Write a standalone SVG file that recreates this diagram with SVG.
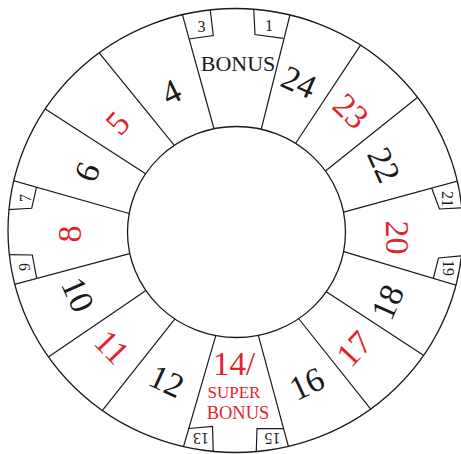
<svg xmlns="http://www.w3.org/2000/svg" width="461" height="454" viewBox="0 0 461 454">
<defs>
<style>
.rim{fill:none;stroke:#1a1a1a;stroke-width:1.3}
.hub{fill:#fff;stroke:#1a1a1a;stroke-width:1.3}
.div{fill:none;stroke:#1a1a1a;stroke-width:1.2}
.num{font-family:"Liberation Serif","Times New Roman",serif;font-size:34px;text-anchor:middle;dominant-baseline:central;fill:#1a1a1a}
.red{fill:#e3242b}
.tab{font-size:16px}
.word{font-family:"Liberation Serif","Times New Roman",serif;text-anchor:middle;fill:#1a1a1a}
.wred{fill:#e3242b}
</style>
<clipPath id="wheelClip"><ellipse cx="235.5" cy="230.5" rx="227.5" ry="222"/></clipPath>
</defs>
<rect width="461" height="454" fill="#fff"/>
<g id="connectors" clip-path="url(#wheelClip)">
<line class="div" x1="216" y1="136" x2="180" y2="6"/>
<line class="div" x1="179.6" y1="151.8" x2="93.7" y2="46.2"/>
<line class="div" x1="153.4" y1="178.7" x2="38.3" y2="104.6"/>
<line class="div" x1="138" y1="216" x2="3.7" y2="177.8"/>
<line class="div" x1="138" y1="251.4" x2="5.3" y2="286.8"/>
<line class="div" x1="153.3" y1="285.4" x2="41" y2="362"/>
<line class="div" x1="179.5" y1="313.2" x2="95.5" y2="419.1"/>
<line class="div" x1="218.3" y1="326.9" x2="180.2" y2="458.1"/>
<line class="div" x1="255.7" y1="325.6" x2="291.6" y2="458.2"/>
<line class="div" x1="293.8" y1="312.5" x2="377.9" y2="418.1"/>
<line class="div" x1="318.3" y1="286.5" x2="433.4" y2="361.8"/>
<line class="div" x1="335.4" y1="249.1" x2="468.6" y2="288.9"/>
<line class="div" x1="335.3" y1="214.3" x2="467.7" y2="178.4"/>
<line class="div" x1="318.9" y1="176.3" x2="426.1" y2="90.5"/>
<line class="div" x1="291.2" y1="150" x2="365.5" y2="37.7"/>
<line class="div" x1="259.3" y1="137" x2="292.4" y2="5.3"/>
<g id="tab-boxes">
<polyline class="div" points="189,39 213.3,35.5 209.5,4"/>
<polyline class="div" points="283.3,38.3 255,34.5 253.5,4"/>
<polyline class="div" points="431.7,188.3 439.5,209 466,207.5"/>
<polyline class="div" points="433.3,278.3 438.5,258 466,255.5"/>
<polyline class="div" points="283.6,428.7 257,428.5 256,460"/>
<polyline class="div" points="189,428.5 212.5,426.5 213.5,460"/>
<polyline class="div" points="36.5,187.2 31.7,208.3 2,210"/>
<polyline class="div" points="36.7,278.4 32.3,255 2,254.5"/>
</g>
</g>
<ellipse id="outer-rim" class="rim" cx="235.5" cy="230.5" rx="227.5" ry="222"/>
<ellipse id="hub" class="hub" cx="236.5" cy="232" rx="109" ry="105.5"/>

<g id="seg-bonus"><text class="word" x="238" y="70.7" font-size="22">BONUS</text></g>
<g id="seg-24"><text class="num" transform="translate(299,82) rotate(24)">24</text></g>
<g id="seg-23"><text class="num red" transform="translate(351,111) rotate(44)">23</text></g>
<g id="seg-22"><text class="num" transform="translate(384,165) rotate(65.5)">22</text></g>
<g id="seg-20"><text class="num red" transform="translate(397.5,237.5) rotate(90)">20</text></g>
<g id="seg-18"><text class="num" transform="translate(387.5,302) rotate(-66)">18</text></g>
<g id="seg-17"><text class="num red" transform="translate(354,348.7) rotate(-47)">17</text></g>
<g id="seg-16"><text class="num" transform="translate(306.7,383.7) rotate(-25)">16</text></g>
<g id="seg-14">
<text class="word wred" x="234" y="375" font-size="33">14/</text>
<text class="word wred" x="234" y="398" font-size="17">SUPER</text>
<text class="word wred" x="238" y="418.5" font-size="18.5">BONUS</text>
</g>
<g id="seg-12"><text class="num" transform="translate(166.7,381) rotate(25)">12</text></g>
<g id="seg-11"><text class="num red" transform="translate(112,347) rotate(46)">11</text></g>
<g id="seg-10"><text class="num" transform="translate(78,294.5) rotate(66)">10</text></g>
<g id="seg-8"><text class="num red" transform="translate(69,234) rotate(-90)">8</text></g>
<g id="seg-6"><text class="num" transform="translate(87,172) rotate(-67)">6</text></g>
<g id="seg-5"><text class="num red" transform="translate(117.5,123) rotate(-47.5)">5</text></g>
<g id="seg-4"><text class="num" transform="translate(171,92) rotate(-26)">4</text></g>

<g id="tab-3"><text class="num tab" transform="translate(201.5,26)">3</text></g>
<g id="tab-1"><text class="num tab" transform="translate(269,25)">1</text></g>
<g id="tab-21"><text class="num tab" transform="translate(447.5,199) rotate(90)">21</text></g>
<g id="tab-19"><text class="num tab" transform="translate(448,268) rotate(90)">19</text></g>
<g id="tab-15"><text class="num tab" transform="translate(272.5,438) rotate(180)">15</text></g>
<g id="tab-13"><text class="num tab" transform="translate(201,438) rotate(180)">13</text></g>
<g id="tab-7"><text class="num tab" transform="translate(25.5,198) rotate(-90)">7</text></g>
<g id="tab-9"><text class="num tab" transform="translate(24,267) rotate(-90)">9</text></g>
</svg>
